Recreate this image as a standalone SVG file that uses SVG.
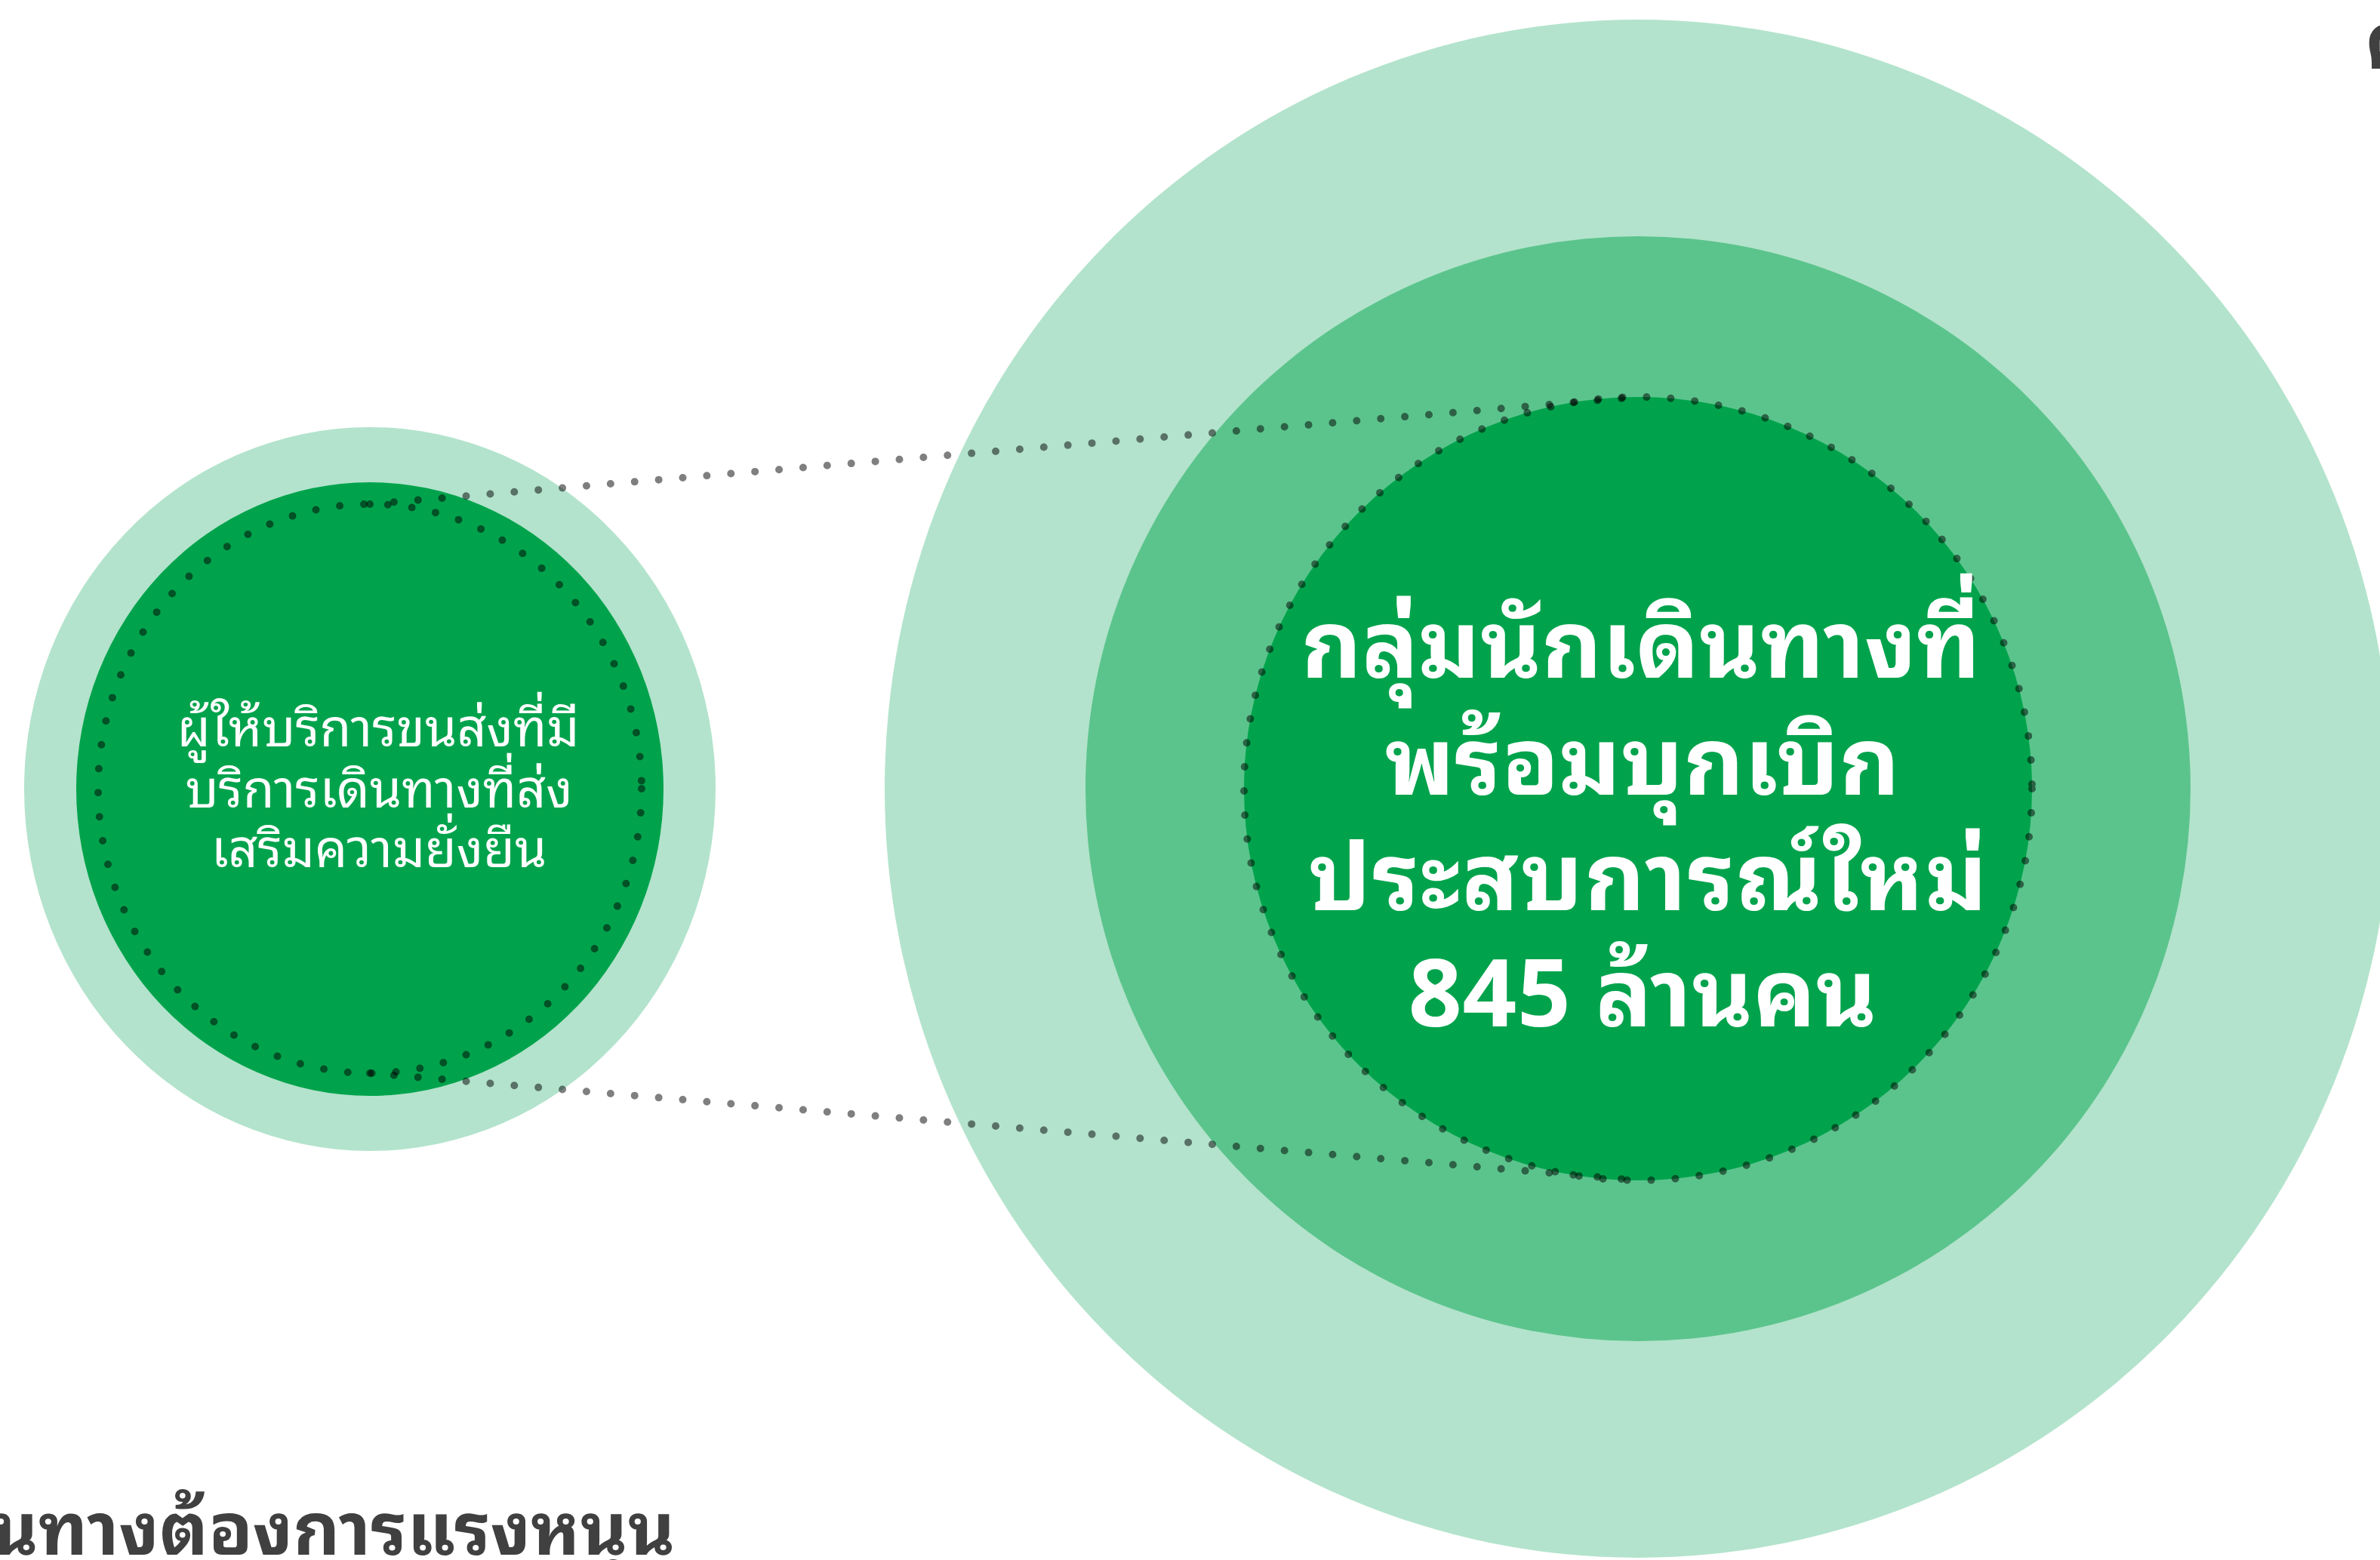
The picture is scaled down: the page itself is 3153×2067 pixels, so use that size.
<svg xmlns="http://www.w3.org/2000/svg" width="3153" height="2067" viewBox="0 0 3153 2067">
  <style>
    .outer { fill: #b3e3cc; }
    .middle { fill: #5bc48c; }
    .inner { fill: #00a34c; }
    .ring { fill: none; stroke: #000; stroke-opacity: 0.5; stroke-width: 10; stroke-linecap: round; stroke-dasharray: 0 32; }
    .dots { fill: none; stroke: #000; stroke-opacity: 0.5; stroke-width: 10; stroke-linecap: round; stroke-dasharray: 0 32; }
    .thai { font-family: "Noto Sans Thai Looped", "Loma", "Garuda", "Tahoma", "Noto Sans Thai", "Noto Sans", sans-serif; }
    .white { fill: #ffffff; text-anchor: middle; }
    .heading { fill: #404040; font-weight: 700; }
  </style>
  <rect width="3153" height="2067" fill="#ffffff"/>

  <g id="node-travellers">
    <ellipse class="outer" cx="2170" cy="1045" rx="998" ry="1019"/>
    <ellipse class="middle" cx="2170" cy="1045" rx="732" ry="732"/>
    <ellipse class="inner" cx="2170" cy="1045" rx="522" ry="519"/>
    <ellipse class="ring" cx="2170" cy="1045" rx="522" ry="519"/>
    <text class="thai white" font-size="124" font-weight="700">
      <tspan x="2190" y="898">กลุ่มนักเดินทางที่</tspan>
      <tspan x="2192" y="1053">พร้อมบุกเบิก</tspan>
      <tspan x="2200" y="1206" letter-spacing="2">ประสบการณ์ใหม่</tspan>
      <tspan x="2176" y="1360">845 ล้านคน</tspan>
    </text>
  </g>

  <g id="node-providers">
    <ellipse class="outer" cx="490" cy="1045.5" rx="458" ry="479.5"/>
    <ellipse class="inner" cx="490" cy="1045.5" rx="389" ry="406.5"/>
    <ellipse class="ring" cx="490" cy="1045" rx="360" ry="377"/>
    <text class="thai white" font-size="68">
      <tspan x="510" y="989">ผู้ให้บริการขนส่งที่มี</tspan>
      <tspan x="511" y="1070">บริการเดินทางที่ส่ง</tspan>
      <tspan x="502" y="1149">เสริมความยั่งยืน</tspan>
    </text>
  </g>

  <g id="connectors">
    <path class="dots" d="M490 668 L2170 526"/>
    <path class="dots" d="M490 1422 L2170 1564"/>
  </g>

  <g id="headings">
    <text class="thai heading" x="-12" y="2060" font-size="96">นทางต้องการแรงหนุน</text>
    <text class="thai heading" x="3133" y="91" font-size="105">ค</text>
  </g>
</svg>
